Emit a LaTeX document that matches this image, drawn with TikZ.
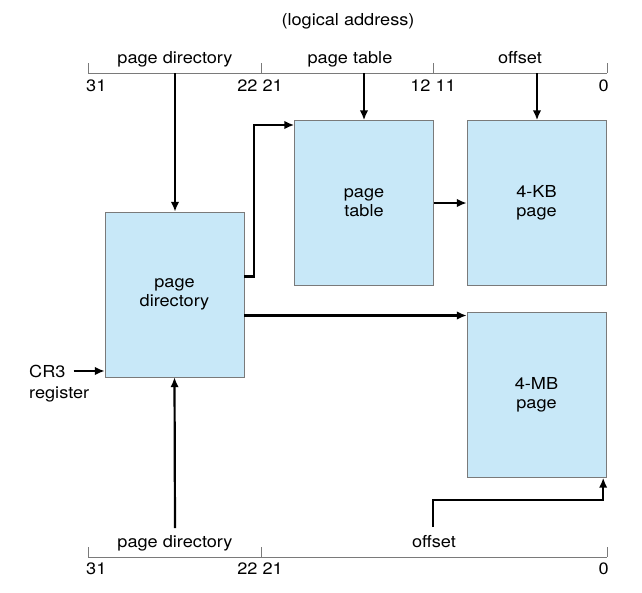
\documentclass[tikz,border=0pt]{standalone}
\usepackage{fontspec}
\setmainfont{TeX Gyre Heros}[FakeStretch=1.1]
\usetikzlibrary{arrows.meta}
\definecolor{boxblue}{HTML}{C8E8F8}
\definecolor{rulegray}{HTML}{7A7A7A}

\begin{document}
\begin{tikzpicture}[x=1pt,y=-1pt,
  box/.style={draw=rulegray,fill=boxblue,minimum width=139pt,minimum height=165pt,align=center,inner sep=0pt,font=\fontsize{16.5}{19}\selectfont},
  lbl/.style={font=\fontsize{16.5}{19}\selectfont,inner sep=0pt},
  arr/.style={line width=2.2pt,-{Latex[length=10pt,width=8.5pt]}},
  rule/.style={draw=rulegray,line width=1pt}]
\useasboundingbox (0,0) rectangle (642,592);
\node[box] (pd) at (174.5,294.5) {page\\directory};
\node[box] (pt) at (364,203) {page\\table};
\node[box] (kb) at (536.5,203) {4-KB\\page};
\node[box] (mb) at (536.5,395) {4-MB\\page};
\node[lbl,anchor=base] (la) at (348,25) {(logical address)};
\draw[rule] (88,73) -- (607,73);
\foreach \x in {88,261,433,607}
  \draw[rule] (\x,63) -- (\x,73);
\node[lbl,anchor=base] (tpd) at (175,63) {page directory};
\node[lbl,anchor=base] (tpt) at (350,63) {page table};
\node[lbl,anchor=base] (tof) at (520,63) {offset};
\node[lbl,anchor=base west] (t31) at (86,91) {31};
\node[lbl,anchor=base] (t22) at (260,91) {22 21};
\node[lbl,anchor=base] (t12) at (433,91) {12 11};
\node[lbl,anchor=base east] (t0) at (609,91) {0};
\coordinate (pdbits) at (175,73);
\coordinate (ptbits) at (364,73);
\coordinate (ofbits) at (537,73);
\draw[arr] (pdbits) -- (pdbits |- pd.north);
\draw[arr] (ptbits) -- (ptbits |- pt.north);
\draw[arr] (ofbits) -- (ofbits |- kb.north);
\draw[arr] ([yshift=18pt]pd.east) -- ++(10,0) |- ([yshift=78pt]pt.west);
\draw[arr] (pt.east) -- (kb.west);
\coordinate (pdout) at ([yshift=-21pt]pd.east);
\draw[arr] (pdout) -- (pdout -| mb.west);
\node[lbl,anchor=base west] (cr3) at (29,377) {CR3};
\node[lbl,anchor=base west] (reg) at (29,398) {register};
\draw[arr] ([xshift=8pt]cr3.east) -- (cr3.east -| pd.west);
\draw[rule] (88,557) -- (607,557);
\foreach \x in {88,261,607}
  \draw[rule] (\x,547) -- (\x,557);
\node[lbl,anchor=base] (bpd) at (175,547) {page directory};
\node[lbl,anchor=base] (bof) at (434,547) {offset};
\node[lbl,anchor=base west] (b31) at (86,574) {31};
\node[lbl,anchor=base] (b22) at (260,574) {22 21};
\node[lbl,anchor=base east] (b0) at (609,574) {0};
\coordinate (pdlow) at (175,528);
\coordinate (oflow) at (433,527);
\draw[arr] (pdlow) -- (pd.south);
\draw[arr] (oflow) -- ++(0,-27) -| ([xshift=-3pt]mb.south east);
\end{tikzpicture}
\end{document}
